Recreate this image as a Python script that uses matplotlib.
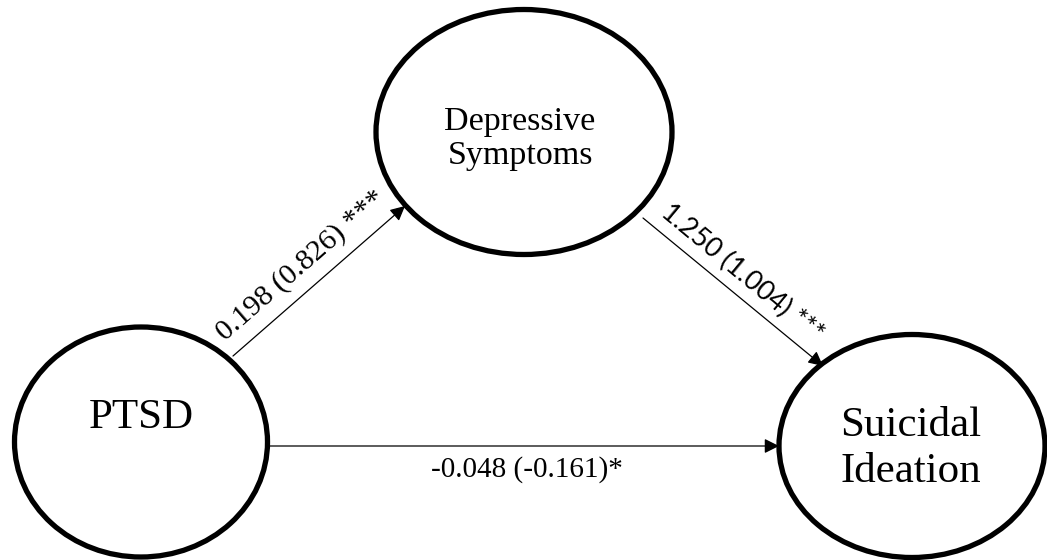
import matplotlib.pyplot as plt
from matplotlib.patches import Ellipse

# node labels and path coefficients
node_names = ["PTSD", "Depressive\nSymptoms", "Suicidal\nIdeation"]
path_from = [0, 1, 0]
path_to = [1, 2, 2]
path_labels = ["0.198 (0.826) ***", "1.250 (1.004) ***", "-0.048 (-0.161)*"]

# layout in pixel coordinates (y down)
W, H = 1047, 560
node_center = [(141, 442), (524, 132), (912, 446)]
node_size = [(253, 230), (296, 245), (266, 223)]
node_text_xy = [(141, 418), (520, 139), (911, 449)]
node_font = [31, 24.5, 31]
node_linespacing = [1.0, 1.15, 1.27]

arrow_ends = [((233, 356), (405, 206)),
              ((643, 218), (823, 366)),
              ((268, 446), (779, 446))]
label_xy = [(301, 266), (742, 273), (527, 470)]
label_rot = [41, -39.7, 0]
label_font = [
    dict(family="Liberation Serif", size=21.5),
    dict(family="Lato", size=19.5),
    dict(family="Liberation Serif", size=21),
]

fig = plt.figure(figsize=(W / 100, H / 100), dpi=100)
ax = fig.add_axes([0, 0, 1, 1])
ax.set_xlim(0, W)
ax.set_ylim(H, 0)
ax.axis("off")

for i, name in enumerate(node_names):
    cx, cy = node_center[i]
    w, h = node_size[i]
    ax.add_patch(Ellipse((cx, cy), w, h, facecolor="white",
                         edgecolor="black", linewidth=3.8, zorder=2))
    tx, ty = node_text_xy[i]
    ax.text(tx, ty, name, ha="center", va="center", family="Liberation Serif",
            fontsize=node_font[i], linespacing=node_linespacing[i], zorder=3)

for i in range(len(path_labels)):
    (x0, y0), (x1, y1) = arrow_ends[i]
    ax.annotate("", xy=(x1, y1), xytext=(x0, y0),
                arrowprops=dict(arrowstyle="-|>", color="black", lw=0.9,
                                mutation_scale=22, shrinkA=0, shrinkB=0),
                zorder=4)
    lx, ly = label_xy[i]
    ax.text(lx, ly, path_labels[i], ha="center", va="center",
            rotation=label_rot[i], rotation_mode="anchor",
            family=label_font[i]["family"], fontsize=label_font[i]["size"])

fig.savefig("out.png", dpi=100, facecolor="white")
